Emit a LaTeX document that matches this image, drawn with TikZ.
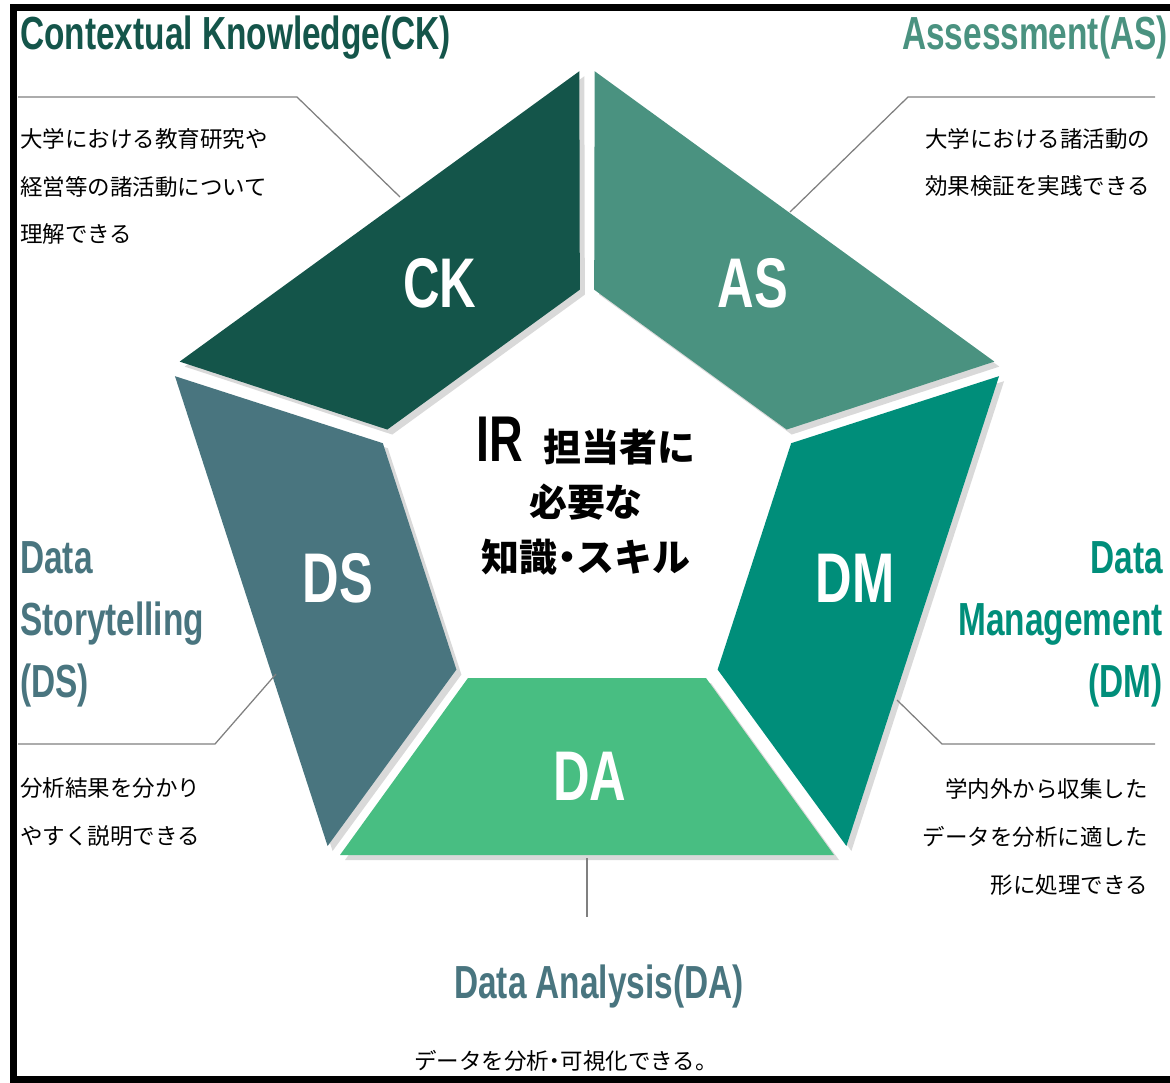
\documentclass[tikz,border=0pt]{standalone}
\usepackage{fontspec}
\usepackage{tikz}
\usepackage{xcolor}
\setmainfont{Noto Sans CJK JP}
\newfontfamily\oswald[FakeStretch=0.72]{Liberation Sans}
\definecolor{ckgreen}{HTML}{14554A}
\definecolor{asgreen}{HTML}{4A9280}
\definecolor{dmteal}{HTML}{008E7A}
\definecolor{dagreen}{HTML}{48BE82}
\definecolor{dsteal}{HTML}{49757F}
\newcommand{\middot}{\kern-0.25em・\kern-0.25em}
\usetikzlibrary{arrows.meta}

\begin{document}
\begin{tikzpicture}[x=0.025cm,y=-0.025cm,
                leader/.style={draw=gray,line width=0.9pt},
                title/.style={inner sep=0pt,font=\oswald\bfseries\fontsize{33}{44}\selectfont},
                note/.style={inner sep=0pt,font=\fontsize{16}{34}\selectfont},
                seglabel/.style={white,inner sep=0pt,font=\oswald\bfseries\fontsize{50}{50}\selectfont}]
                \useasboundingbox (0,0) rectangle (1170,1083);
                \draw[line width=5pt] (1185,7.5) -- (13.5,7.5) -- (13.5,1080) -- (1185,1080);

                \foreach \ang in {0,72,...,288} {
                    \fill[black,opacity=0.15,shift={(592,507)},rotate=\ang] (-247,353) -- (247,353) -- (119,176) -- (-119,176) -- cycle;
                }
                \foreach \ang/\col/\lab/\lx/\ly in {0/dagreen/DA/590/776,72/dmteal/DM/855/578,144/asgreen/AS/753/283,216/ckgreen/CK/440/283,288/dsteal/DS/338/578} {
                    \fill[\col,shift={(587,502)},rotate=\ang] (-247,353) -- (247,353) -- (119,176) -- (-119,176) -- cycle;
                    \node[seglabel] (seg-\lab) at (\lx,\ly) {\lab};
                }

                \node[title,ckgreen,anchor=base west] (ck-title) at (20,50) {Contextual Knowledge(CK)};
                \node[title,asgreen,anchor=base east] (as-title) at (1168,50) {Assessment(AS)};
                \node[title,dsteal,anchor=base west,align=left] (ds-title) at (20,697) {Data\\Storytelling\\(DS)};
                \node[title,dmteal,anchor=base east,align=right] (dm-title) at (1163,697) {Data\\Management\\(DM)};
                \node[title,dsteal,anchor=base] (da-title) at (599,998) {Data Analysis(DA)};

                \node[note,anchor=base west,align=left] (ck-note) at (20,243) {大学における教育研究や\\経営等の諸活動について\\理解できる};
                \node[note,anchor=base west,align=left] (as-note) at (925,195) {大学における諸活動の\\効果検証を実践できる};
                \node[note,anchor=base west,align=left] (ds-note) at (20,844) {分析結果を分かり\\やすく説明できる};
                \node[note,anchor=base east,align=right] (dm-note) at (1148,893) {学内外から収集した\\データを分析に適した\\形に処理できる};
                \node[note,anchor=base] (da-note) at (566,1069) {データを分析\middot 可視化できる。};

                \node[inner sep=0pt,align=center,anchor=base,font=\bfseries\fontsize{27}{39}\selectfont] (ir-core) at (586,571) {{\oswald\fontsize{46}{39}\selectfont IR}\hspace{14pt}担当者に\\必要な\\知識\middot スキル};

                \coordinate (ck-a) at (18,97);
                \coordinate (ck-b) at (297,97);
                \coordinate (ck-c) at (400,197);
                \coordinate (as-a) at (1155,97);
                \coordinate (as-b) at (908,97);
                \coordinate (as-c) at (790,212);
                \coordinate (ds-a) at (18,744);
                \coordinate (ds-b) at (215,744);
                \coordinate (ds-c) at (276,674);
                \coordinate (dm-a) at (1155,744);
                \coordinate (dm-b) at (942,744);
                \coordinate (dm-c) at (897,700);
                \coordinate (da-a) at (587,858);
                \coordinate (da-b) at (587,917);
                \draw[leader] (ck-a) -- (ck-b) -- (ck-c);
                \draw[leader] (as-a) -- (as-b) -- (as-c);
                \draw[leader] (ds-a) -- (ds-b) -- (ds-c);
                \draw[leader] (dm-a) -- (dm-b) -- (dm-c);
                \draw[leader] (da-a) -- (da-b);
\end{tikzpicture}
\end{document}
